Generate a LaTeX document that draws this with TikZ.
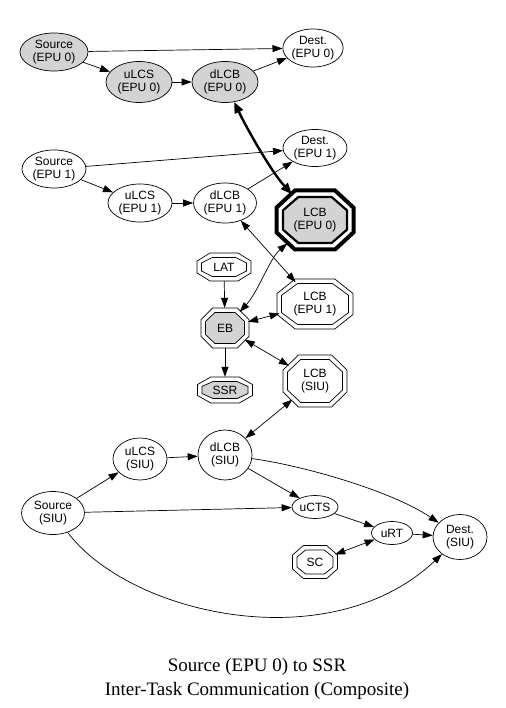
\documentclass[tikz,border=0pt]{standalone}
\usepackage{fontspec}
\setmainfont{Liberation Serif}
\setsansfont{Liberation Sans}
\usetikzlibrary{calc, arrows.meta, shapes.geometric, backgrounds}

\definecolor{nodegray}{RGB}{211,211,211}

% octagon outline round a node: node, half width, half height
\newcommand{\octpath}[3]{($(#1)+({#2},{0.42*(#3)})$) -- ($(#1)+({0.52*(#2)},{#3})$)
  -- ($(#1)+({-0.52*(#2)},{#3})$) -- ($(#1)+({-(#2)},{0.42*(#3)})$)
  -- ($(#1)+({-(#2)},{-0.42*(#3)})$) -- ($(#1)+({-0.52*(#2)},{-(#3)})$)
  -- ($(#1)+({0.52*(#2)},{-(#3)})$) -- ($(#1)+({#2},{-0.42*(#3)})$) -- cycle}
\newcommand{\dblocta}[4][white]{%
  \draw[line width=0.7pt] \octpath{#2}{#3}{#4};
  \draw[line width=0.7pt, fill=#1] \octpath{#2}{#3-4.5}{#4-4.5};}

\tikzset{
  task/.style={ellipse, draw, line width=0.7pt, inner sep=0pt, align=center,
    font=\sffamily\fontsize{12}{13}\selectfont},
  octo/.style={ellipse, inner sep=0pt, align=center,
    font=\sffamily\fontsize{12}{13}\selectfont},
  busy/.style={fill=nodegray},
  flow/.style={line width=0.7pt, -{Triangle[length=10pt,width=7pt]}},
  both/.style={line width=0.7pt, {Triangle[length=10pt,width=7pt]}-{Triangle[length=10pt,width=7pt]}},
  boldboth/.style={line width=2.4pt, {Triangle[length=11pt,width=9pt]}-{Triangle[length=11pt,width=9pt]}},
}

\begin{document}
\begin{tikzpicture}[x=1pt, y=-1pt]
  \useasboundingbox (0,0) rectangle (505,708);

  % EPU 0
  \node[task, busy, minimum width=68pt, minimum height=38pt] (src0) at (54,52) {Source\\(EPU 0)};
  \node[task, minimum width=60pt, minimum height=38pt] (dst0) at (313,48) {Dest.\\(EPU 0)};
  \node[task, busy, minimum width=66pt, minimum height=41pt] (ulcs0) at (139,82) {uLCS\\(EPU 0)};
  \node[task, busy, minimum width=66pt, minimum height=41pt] (dlcb0) at (225,82) {dLCB\\(EPU 0)};

  % EPU 1
  \node[task, minimum width=64pt, minimum height=38pt] (src1) at (54,169) {Source\\(EPU 1)};
  \node[task, minimum width=64pt, minimum height=37pt] (dst1) at (315,148) {Dest.\\(EPU 1)};
  \node[task, minimum width=64pt, minimum height=38pt] (ulcs1) at (140,203) {uLCS\\(EPU 1)};
  \node[task, minimum width=63pt, minimum height=40pt] (dlcb1) at (225,203) {dLCB\\(EPU 1)};

  % buffers
  \node[octo, minimum width=81pt, minimum height=63pt] (lcb0) at (315,220) {LCB\\(EPU 0)};
  \node[octo, minimum width=54pt, minimum height=28pt] (lat) at (224,267) {LAT};
  \node[octo, minimum width=48pt, minimum height=40pt] (eb) at (225,328) {EB};
  \node[octo, minimum width=55pt, minimum height=26pt] (ssr) at (225,390) {SSR};
  \node[octo, minimum width=76pt, minimum height=50pt] (lcb1) at (315,304) {LCB\\(EPU 1)};
  \node[octo, minimum width=64pt, minimum height=52pt] (lcbs) at (315,381) {LCB\\(SIU)};

  % SIU
  \node[task, minimum width=63pt, minimum height=43pt] (srcs) at (53,513) {Source\\(SIU)};
  \node[task, minimum width=54pt, minimum height=42pt] (ulcss) at (140,459) {uLCS\\(SIU)};
  \node[task, minimum width=54pt, minimum height=50pt] (dlcbs) at (225,455) {dLCB\\(SIU)};
  \node[task, minimum width=46pt, minimum height=23pt] (ucts) at (315,507) {uCTS};
  \node[task, minimum width=41pt, minimum height=23pt] (urt) at (392,533) {uRT};
  \node[task, minimum width=54pt, minimum height=45pt] (dsts) at (460,537) {Dest.\\(SIU)};
  \node[octo, minimum width=45pt, minimum height=33pt] (sc) at (315,562) {SC};

  \begin{pgfonlayer}{background}
    \draw[line width=4pt] \octpath{lcb0}{38.5}{29.5};
    \draw[line width=2.2pt, fill=nodegray] \octpath{lcb0}{32}{23};
    \dblocta{lat}{27}{14}
    \dblocta[nodegray]{eb}{24}{20}
    \dblocta[nodegray]{ssr}{27.5}{13}
    \dblocta{lcb1}{38}{25}
    \dblocta{lcbs}{32}{26}
    \dblocta{sc}{22.5}{16.5}
  \end{pgfonlayer}

  % connectors
  \draw[flow] (src0) -- (dst0);
  \draw[flow] (src0) -- (ulcs0);
  \draw[flow] (ulcs0) -- (dlcb0);
  \draw[flow] (dlcb0) -- (dst0);
  \draw[boldboth] (dlcb0) .. controls (245,125) and (270,170) .. (lcb0);

  \draw[flow] (src1) -- (dst1);
  \draw[flow] (src1) -- (ulcs1);
  \draw[flow] (ulcs1) -- (dlcb1);
  \draw[flow] (dlcb1) -- (dst1);
  \draw[both] (dlcb1) -- (lcb1);

  \draw[both] (eb) .. controls (258,292) and (270,258) .. (lcb0);
  \draw[flow] (lat) -- (eb);
  \draw[both] (eb) -- (lcb1);
  \draw[flow] (eb) -- (ssr);
  \draw[both] (eb) -- (lcbs);
  \draw[both] (lcbs) -- (dlcbs);

  \draw[flow] (srcs) -- (ulcss);
  \draw[flow] (ulcss) -- (dlcbs);
  \draw[flow] (srcs) -- (ucts);
  \draw[flow] (dlcbs) -- (ucts);
  \draw[flow] (dlcbs) .. controls (300,465) and (390,490) .. (dsts);
  \draw[flow] (srcs) .. controls (130,615) and (330,660) .. (dsts);
  \draw[flow] (ucts) -- (urt);
  \draw[flow] (urt) -- (dsts);
  \draw[both] (sc) -- (urt);

  \node[font=\fontsize{19}{24}\selectfont, align=center] (title) at (257,679)
    {Source (EPU 0) to SSR\\Inter-Task Communication (Composite)};
\end{tikzpicture}
\end{document}
